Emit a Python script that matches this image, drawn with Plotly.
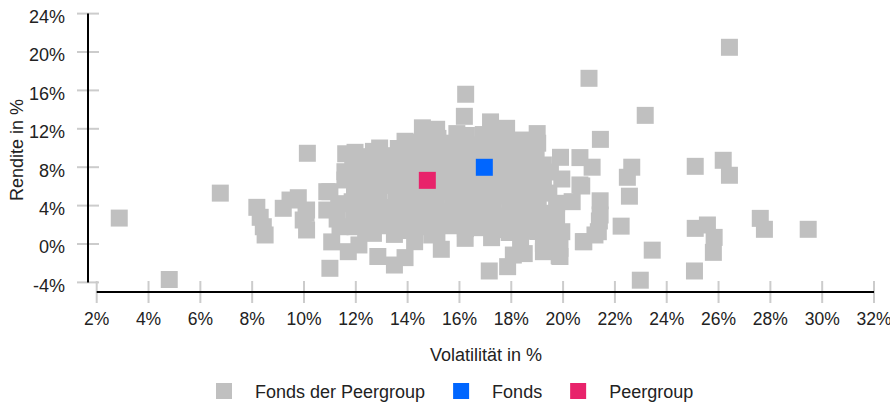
import plotly.graph_objects as go

# ---------------- data (Volatilität / Rendite in %) ----------------
# Fonds der Peergroup, grouped by region of the chart
far_left_vol = [2.87, 4.80, 6.77, 8.18, 8.31, 8.43, 8.50, 9.20, 9.46, 9.78, 10.10, 9.97, 10.10, 10.08, 10.13]
far_left_ret = [2.70, -3.70, 5.30, 3.82, 2.78, 1.80, 0.94, 3.72, 4.58, 4.82, 3.54, 2.50, 1.46, 3.20, 9.45]

left_edge_vol = [11.00, 12.85, 13.49, 13.90, 15.30, 10.88, 10.88, 11.58, 11.61, 11.97, 12.68, 11.88,
                 11.58, 11.00, 11.07, 11.39, 11.97, 11.71, 12.12, 12.68, 13.49, 14.27, 14.93]
left_edge_ret = [-2.53, -1.30, -2.19, -1.42, -0.55, 5.45, 3.54, 7.53, 9.40, 9.55, 9.65, 7.88,
                 6.67, 5.45, 0.22, 1.80, 1.80, -0.80, -0.10, 1.11, 1.00, 0.24, 0.94]

bottom_edge_vol = [16.22, 17.24, 17.15, 17.86, 18.08, 18.50, 18.36, 19.24, 19.24, 19.88, 19.88, 20.78, 19.85]
bottom_edge_ret = [0.59, 0.66, -2.81, -2.36, -1.15, -1.00, 0.24, 0.07, -0.80, -0.45, -1.30, 0.24, -1.22]

top_edge_vol = [13.90, 13.64, 14.57, 15.12, 15.90, 16.19, 16.24, 16.92, 17.20, 17.82, 18.37, 18.37,
                18.49, 19.00, 19.02]
top_edge_ret = [10.70, 9.95, 12.10, 11.95, 11.50, 13.30, 15.60, 11.40, 12.72, 12.05, 10.83, 9.97,
                10.66, 11.50, 10.50]

right_edge_vol = [19.24, 19.24, 19.00, 19.75, 19.75, 19.95, 19.75, 19.90, 20.65, 21.12, 19.95, 20.65,
                  20.72, 20.35, 21.43, 21.40, 21.43, 21.36, 20.80, 21.23]
right_edge_ret = [8.23, 6.67, 4.76, 4.24, 2.84, 1.28, 0.76, 9.03, 9.00, 8.00, 6.77, 6.15,
                  6.04, 4.41, 4.50, 2.40, 3.02, 1.28, 0.24, 0.94]

far_right_vol = [21.00, 21.44, 23.17, 22.65, 22.48, 22.56, 22.24, 23.44, 22.98, 25.10, 26.18, 26.42,
                 26.42, 25.57, 25.10, 25.83, 25.80, 25.07, 27.61, 27.77, 29.46]
far_right_ret = [17.26, 10.90, 13.40, 8.00, 6.95, 4.98, 1.86, -0.64, -3.77, 8.09, 8.72, 7.16,
                 20.49, 1.98, 1.63, 0.69, -0.87, -2.81, 2.67, 1.53, 1.53]

core_vol = [
    11.28, 11.34,
    11.92, 11.86, 11.95, 11.90,
    12.38, 12.44, 12.36, 12.42, 12.40, 12.35, 12.45,
    12.93, 12.98, 12.90, 12.96, 12.94, 12.99, 12.92,
    13.52, 13.47, 13.55, 13.50, 13.46, 13.53,
    14.03, 14.08, 14.01, 14.06, 14.04, 14.09, 14.02, 14.07,
    14.62, 14.58, 14.64, 14.60, 14.56, 14.63, 14.59, 14.61,
    15.13, 15.18, 15.11, 15.16, 15.14, 15.19, 15.12, 15.17,
    15.72, 15.67, 15.74, 15.69, 15.71, 15.66, 15.73,
    16.23, 16.28, 16.21, 16.26, 16.24, 16.29, 16.22, 16.27,
    16.82, 16.77, 16.84, 16.79, 16.81, 16.76, 16.83,
    17.33, 17.38, 17.31, 17.36, 17.34, 17.39, 17.32, 17.37,
    17.92, 17.87, 17.94, 17.89, 17.91, 17.86, 17.93, 17.88,
    18.43, 18.48, 18.41, 18.46, 18.44, 18.49, 18.42,
    19.02, 18.97, 19.04, 18.99, 19.01, 18.96,
    19.48, 19.53, 19.45, 19.51,
]
core_ret = [
    2.6, 4.2,
    3.0, 4.4, 5.7, 6.9,
    1.2, 2.6, 4.0, 5.4, 6.8, 8.2, 9.1,
    1.9, 3.3, 4.7, 6.1, 7.5, 8.9, 10.0,
    2.4, 3.8, 5.2, 6.6, 8.0, 9.2,
    1.4, 2.8, 4.2, 5.6, 7.0, 8.4, 9.8, 10.6,
    1.8, 3.3, 4.8, 6.2, 7.7, 9.1, 10.5, 11.5,
    1.2, 2.6, 4.0, 5.5, 7.0, 8.4, 9.8, 11.0,
    1.9, 3.4, 4.9, 6.3, 7.8, 9.2, 10.5,
    1.6, 2.9, 4.3, 5.8, 7.2, 8.6, 10.0, 11.3,
    1.7, 3.1, 4.5, 6.0, 7.4, 8.8, 10.3,
    1.5, 2.9, 4.3, 5.8, 7.3, 8.7, 10.1, 11.5,
    1.2, 2.3, 3.6, 5.0, 6.4, 7.9, 9.3, 10.6,
    1.4, 2.7, 4.1, 5.6, 7.0, 8.4, 9.4,
    1.3, 2.3, 3.7, 5.9, 7.4, 8.8,
    1.6, 3.2, 5.3, 7.5,
]

fonds_vol = [16.96]
fonds_ret = [7.99]
peergroup_vol = [14.76]
peergroup_ret = [6.63]

x_ticks = [2, 4, 6, 8, 10, 12, 14, 16, 18, 20, 22, 24, 26, 28, 30, 32]
y_ticks = [-4, 0, 4, 8, 12, 16, 20, 24]
x_tick_labels = [f"{v}%" for v in x_ticks]
y_tick_labels = [f"{v}%" for v in y_ticks]

series_names = ["Fonds der Peergroup", "Fonds", "Peergroup"]
x_title = "Volatilität in %"
y_title = "Rendite in %"

# ---------------- styling ----------------
FONT = "Liberation Sans, Arial, Helvetica, sans-serif"
FS = 18
GRAY = "#c0c0c0"
BLUE = "#0066ff"
PINK = "#e8236b"
TICK_GRAY = "#cccccc"
TEXT = "#222222"
MSIZE = 17

peer_vol = far_left_vol + left_edge_vol + bottom_edge_vol + top_edge_vol + right_edge_vol + far_right_vol + core_vol
peer_ret = far_left_ret + left_edge_ret + bottom_edge_ret + top_edge_ret + right_edge_ret + far_right_ret + core_ret

fig = go.Figure()
fig.add_trace(go.Scatter(x=peer_vol, y=peer_ret, mode="markers", name=series_names[0],
                         marker=dict(symbol="square", size=MSIZE, color=GRAY, line=dict(width=0)),
                         hoverinfo="x+y"))
fig.add_trace(go.Scatter(x=fonds_vol, y=fonds_ret, mode="markers", name=series_names[1],
                         marker=dict(symbol="square", size=MSIZE, color=BLUE, line=dict(width=0))))
fig.add_trace(go.Scatter(x=peergroup_vol, y=peergroup_ret, mode="markers", name=series_names[2],
                         marker=dict(symbol="square", size=MSIZE, color=PINK, line=dict(width=0))))

W, H = 890, 405
L, T = 88, 8            # plot area left / top
R = W - 880             # plot area right at px 880
B = H - 292             # plot area bottom at px 292
plot_w = W - L - R
plot_h = H - T - B


def px_x(page_x):
    return (page_x - L) / plot_w


def px_y(page_y):
    return (T + plot_h - page_y) / plot_h


shapes = []
# tick marks crossing the axis lines
for v in y_ticks:
    shapes.append(dict(type="line", xref="paper", xsizemode="pixel", xanchor=0, x0=-11, x1=11,
                       yref="y", y0=v, y1=v, line=dict(color=TICK_GRAY, width=2), layer="above"))
for v in x_ticks:
    shapes.append(dict(type="line", yref="paper", ysizemode="pixel", yanchor=0, y0=-11, y1=11,
                       xref="x", x0=v, x1=v, line=dict(color=TICK_GRAY, width=2), layer="above"))
# axis lines (offset, spanning the tick range)
shapes.append(dict(type="line", xref="paper", x0=0, x1=0, yref="y", y0=y_ticks[0], y1=y_ticks[-1],
                   line=dict(color="black", width=2), layer="above"))
shapes.append(dict(type="line", yref="paper", y0=0, y1=0, xref="x", x0=x_ticks[0], x1=x_ticks[-1],
                   line=dict(color="black", width=2), layer="above"))

fig.update_layout(
    width=W, height=H,
    margin=dict(l=L, r=R, t=T, b=B, pad=0, autoexpand=False),
    paper_bgcolor="white", plot_bgcolor="white",
    font=dict(family=FONT, size=FS, color=TEXT),
    showlegend=True,
    legend=dict(orientation="h", x=px_x(193), xanchor="left",
                y=px_y(391.3), yanchor="middle",
                itemwidth=52, font=dict(size=FS), bgcolor="rgba(0,0,0,0)"),
    xaxis=dict(range=[1.664, 32.231], tickmode="array", tickvals=x_ticks, ticktext=x_tick_labels,
               tickfont=dict(size=17.5),
               showgrid=False, zeroline=False, showline=False, ticks="", ticklabelstandoff=14,
               ticklabeloverflow="allow", automargin=False, fixedrange=True),
    yaxis=dict(range=[-5.0, 24.583], tickmode="array", tickvals=y_ticks, ticktext=y_tick_labels,
               showgrid=False, zeroline=False, showline=False, ticks="", ticklabelstandoff=22,
               ticklabelshift=3, ticklabeloverflow="allow", automargin=False, fixedrange=True),
    shapes=shapes,
    annotations=[
        dict(text=x_title, xref="paper", yref="paper", x=px_x(485.8), y=px_y(355),
             xanchor="center", yanchor="middle",
             showarrow=False, font=dict(size=FS, family=FONT, color=TEXT)),
        dict(text=y_title, xref="paper", yref="paper", x=px_x(17), y=0.5,
             xanchor="center", yanchor="middle", textangle=-90,
             showarrow=False, font=dict(size=FS, family=FONT, color=TEXT)),
    ],
)

# remove the default page margin so the 890x405 figure fills the window exactly
fig.write_html("out.html",
               config={"displayModeBar": False},
               post_script="document.body.style.margin='0';"
                           "document.body.style.padding='0';"
                           "document.documentElement.style.overflow='hidden';")
